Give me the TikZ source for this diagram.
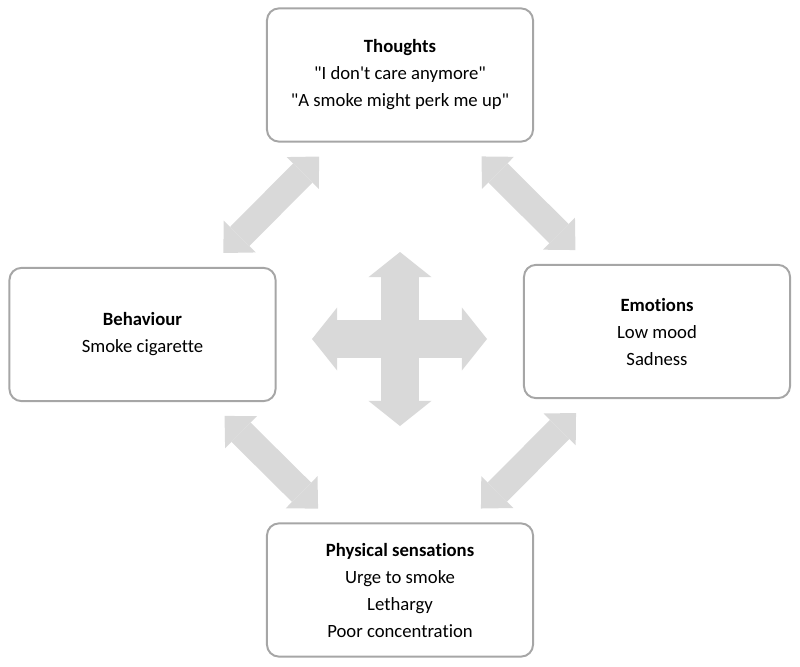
\documentclass[tikz,border=0pt]{standalone}
\usepackage{fontspec}
\newfontfamily\cbtfont{Carlito}[Ligatures=NoCommon]
\usetikzlibrary{arrows.meta}
\definecolor{boxgrey}{HTML}{A6A6A6}
\definecolor{linkgrey}{HTML}{D9D9D9}
\tikzset{
  cbtbox/.style={draw=boxgrey, line width=1.4pt, rounded corners=0.3cm,
    minimum width=6.65cm, minimum height=3.33cm, align=center,
    font=\cbtfont\fontsize{13.3}{19.2}\selectfont},
  linkarrow/.style={draw=linkgrey, line width=0.68cm,
    shorten >=0.49cm, shorten <=0.49cm,
    {Triangle[length=0.58cm, width=1.13cm, line width=0pt]}-{Triangle[length=0.58cm, width=1.13cm, line width=0pt]}},
  hubarrow/.style={draw=linkgrey, line width=0.93cm,
    {Triangle[length=0.63cm, width=1.58cm, line width=0pt]}-{Triangle[length=0.63cm, width=1.58cm, line width=0pt]}}
}

\begin{document}
\begin{tikzpicture}[x=0.025cm, y=-0.025cm]
  \useasboundingbox (0,0) rectangle (800,666);
  % the four boxes
  \node[cbtbox] (thoughts) at (400,75)
    {\textbf{Thoughts}\\"I don't care anymore"\\"A smoke might perk me up"};
  \node[cbtbox] (behaviour) at (142.5,334.5)
    {\textbf{Behaviour}\\Smoke cigarette};
  \node[cbtbox] (emotions) at (657,331.5)
    {\textbf{Emotions}\\Low mood\\Sadness};
  \node[cbtbox] (physical) at (400,590)
    {\textbf{Physical sensations}\\Urge to smoke\\Lethargy\\Poor concentration};
  % links between the boxes
  \draw[linkarrow] (thoughts) -- (behaviour);
  \draw[linkarrow] (thoughts) -- (emotions);
  \draw[linkarrow] (behaviour) -- (physical);
  \draw[linkarrow] (emotions) -- (physical);
  % cross in the middle
  \coordinate (hubW) at (312,339);
  \coordinate (hubE) at (487,339);
  \coordinate (hubN) at (400,252);
  \coordinate (hubS) at (400,426);
  \draw[hubarrow] (hubW) -- (hubE);
  \draw[hubarrow] (hubN) -- (hubS);
\end{tikzpicture}
\end{document}
